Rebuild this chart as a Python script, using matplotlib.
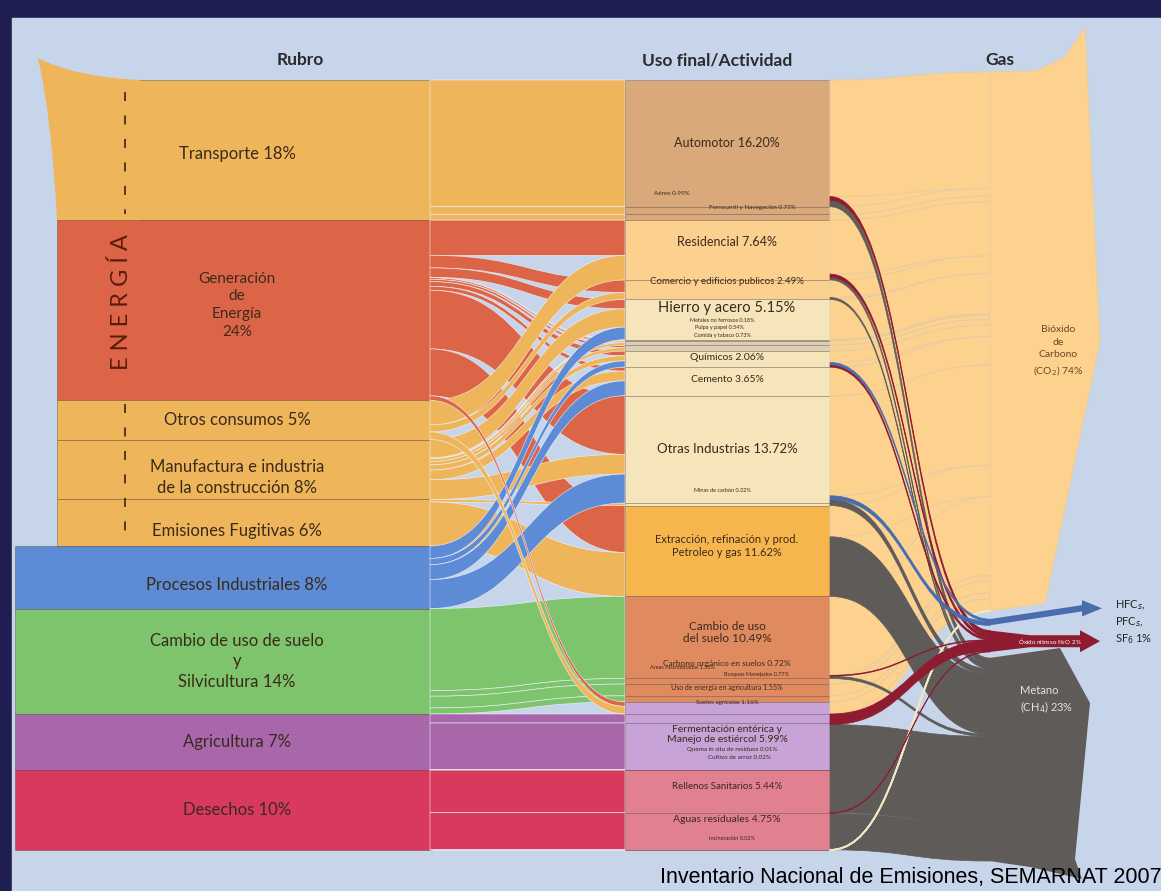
import matplotlib
matplotlib.use("Agg")
import matplotlib.pyplot as plt
from matplotlib.path import Path
from matplotlib.patches import PathPatch, Polygon, Rectangle

# ---------------- data ----------------
rubros = ["Transporte 18%", "Generación\nde\nEnergía\n24%", "Otros consumos 5%",
          "Manufactura e industria\nde la construcción 8%", "Emisiones Fugitivas 6%",
          "Procesos Industriales 8%", "Cambio de uso de suelo\ny\nSilvicultura 14%",
          "Agricultura 7%", "Desechos 10%"]
rubro_colors = ["#eeb55a", "#dd6547", "#eeb55a", "#eeb55a", "#eeb55a",
                "#5d8bd5", "#7ec46d", "#a967ab", "#d9395c"]

usos = ["Automotor 16.20%", "Aéreo 0.99%", "Ferrocarril y Navegación 0.73%",
        "Residencial 7.64%", "Comercio y edificios publicos 2.49%", "Hierro y acero 5.15%",
        "Metales no ferrosos 0.18%", "Pulpa y papel 0.54%", "Comida y tabaco 0.73%",
        "Químicos 2.06%", "Cemento 3.65%", "Otras Industrias 13.72%", "Minas de carbón 0.32%",
        "Extracción, refinación y prod.\nPetroleo y gas 11.62%", "Cambio de uso\ndel suelo 10.49%",
        "Carbono orgánico en suelos 0.72%", "Areas Abandonadas 1.50%", "Bosques Manejados 0.77%",
        "Uso de energía en agricultura 1.55%", "Suelos agrícolas 1.16%",
        "Fermentación entérica y\nManejo de estiércol 5.99%", "Quema in situ de residuos 0.01%",
        "Cultivo de arroz 0.02%", "Rellenos Sanitarios 5.44%", "Aguas residuales 4.75%",
        "Incineración 0.02%"]
uso_values = [16.20, 0.99, 0.73, 7.64, 2.49, 5.15, 0.18, 0.54, 0.73, 2.06, 3.65, 13.72, 0.32,
              11.62, 10.49, 0.72, 1.50, 0.77, 1.55, 1.16, 5.99, 0.01, 0.02, 5.44, 4.75, 0.02]
uso_colors = ["#d9a87b"] * 3 + ["#fcd08f"] * 2 + ["#f6e4bb"] + ["#dccfb3"] * 3 + \
             ["#f6e4bb"] * 4 + ["#f7b64d"] + ["#e08a60"] * 4 + ["#c8a3d8"] * 5 + ["#e1808f"] * 3

# rubro index -> uso index, value
links = [(0, 0, 16.20), (0, 1, 0.99), (0, 2, 0.73),
         (1, 3, 4.50), (1, 4, 1.60), (1, 5, 1.20), (1, 6, 0.06), (1, 7, 0.20), (1, 8, 0.30),
         (1, 9, 0.60), (1, 10, 0.50), (1, 11, 7.50), (1, 13, 6.00), (1, 18, 0.58),
         (2, 3, 3.14), (2, 4, 0.89), (2, 18, 0.97),
         (3, 5, 2.35), (3, 6, 0.12), (3, 7, 0.34), (3, 8, 0.43), (3, 9, 0.66), (3, 10, 1.25),
         (3, 11, 2.52),
         (4, 12, 0.32), (4, 13, 5.62),
         (5, 5, 1.60), (5, 9, 0.80), (5, 10, 1.90), (5, 11, 3.70),
         (6, 14, 10.49), (6, 15, 0.72), (6, 16, 1.50), (6, 17, 0.77),
         (7, 19, 1.16), (7, 20, 5.99), (7, 21, 0.01), (7, 22, 0.02),
         (8, 23, 5.44), (8, 24, 4.75), (8, 25, 0.02)]

# gas split of every uso (same order as usos)
gas_names = ["CO2", "HFC", "N2O", "CH4"]
gas_colors = {"CO2": "#fdd18e", "HFC": "#4a6cae", "N2O": "#8e1b2f", "CH4": "#5f5b58"}
uso_co2 = [14.90, 0.99, 0.73, 6.90, 2.25, 5.15, 0.18, 0.54, 0.73, 1.46, 3.65, 12.80, 0.00,
           4.00, 10.09, 0.72, 1.50, 0.77, 1.55, 0.00, 0.00, 0.00, 0.00, 0.00, 0.00, 0.02]
uso_hfc = [0] * 9 + [0.30, 0.00, 0.50] + [0] * 14
uso_n2o = [0.50, 0, 0, 0.40, 0, 0, 0, 0, 0, 0.30, 0, 0, 0, 0, 0.10, 0, 0, 0, 0, 1.16, 0.20,
           0, 0, 0, 0.10, 0]
uso_ch4 = [0.80, 0, 0, 0.34, 0.24, 0, 0, 0, 0, 0, 0, 0.42, 0.32, 7.62, 0.30, 0, 0, 0, 0, 0,
           5.79, 0.01, 0.02, 5.44, 4.65, 0]

# ---------------- layout ----------------
W, H = 1161, 891
TOP, BOTTOM = 80, 850
LX1, MX0, MX1, GX = 430, 625, 830, 990
GAS_TOP = 72
total = sum(v for _, _, v in links)
k = (BOTTOM - TOP) / total

fig = plt.figure(figsize=(W / 100, H / 100), dpi=100, facecolor="#1e1e50")
ax = fig.add_axes([0, 0, 1, 1])
ax.set_xlim(0, W)
ax.set_ylim(H, 0)
ax.axis("off")
ax.add_patch(Rectangle((12, 18), W - 12, H - 18, color="#c7d5ea", zorder=0))


def band(x0, x1, a0, a1, b0, b1, fc, ec="none", lw=0.0, z=2):
    xm = (x0 + x1) / 2
    verts = [(x0, a0), (xm, a0), (xm, b0), (x1, b0), (x1, b1),
             (xm, b1), (xm, a1), (x0, a1), (x0, a0)]
    codes = [Path.MOVETO, Path.CURVE4, Path.CURVE4, Path.CURVE4, Path.LINETO,
             Path.CURVE4, Path.CURVE4, Path.CURVE4, Path.CLOSEPOLY]
    ax.add_patch(PathPatch(Path(verts, codes), fc=fc, ec=ec, lw=lw, zorder=z))


# left nodes
rubro_h = [sum(v for s, _, v in links if s == i) * k for i in range(len(rubros))]
rubro_y = []
y = TOP
for h in rubro_h:
    rubro_y.append(y)
    y += h
rubro_x0 = [57] * 5 + [15] * 4
for i in range(len(rubros)):
    ax.add_patch(Rectangle((rubro_x0[i], rubro_y[i]), LX1 + 2 - rubro_x0[i], rubro_h[i],
                           fc=rubro_colors[i], ec=(0.3, 0.2, 0.1, 0.35), lw=0.7, zorder=3))
# flared tail on the top of Transporte
tail = Path([(57, rubro_y[1]), (52, 120), (38, 58), (75, 77), (140, TOP), (140, rubro_y[1]),
             (57, rubro_y[1])],
            [Path.MOVETO, Path.CURVE3, Path.CURVE3, Path.CURVE3, Path.CURVE3, Path.LINETO,
             Path.CLOSEPOLY])
ax.add_patch(PathPatch(tail, fc=rubro_colors[0], ec="none", zorder=3.1))

# middle nodes
uso_h = [v * k for v in uso_values]
uso_y = []
y = TOP
for h in uso_h:
    uso_y.append(y)
    y += h
for j in range(len(usos)):
    ax.add_patch(Rectangle((MX0, uso_y[j]), MX1 - MX0, uso_h[j], fc=uso_colors[j],
                           ec=(0.25, 0.15, 0.1, 0.3), lw=0.6, zorder=5))

# left -> middle ribbons
src_off = list(rubro_y)
dst_in = {}
for s, t, v in links:
    dst_in.setdefault(t, []).append((s, v))
dst_off = {}
for t in dst_in:
    yy = uso_y[t]
    for s, v in sorted(dst_in[t]):
        dst_off[(s, t)] = yy
        yy += v * k
for s, t, v in links:
    h = v * k
    a0 = src_off[s]
    src_off[s] += h
    b0 = dst_off[(s, t)]
    z = 4.5 if (v < 1 and abs(b0 - a0) > 200) else 4
    band(LX1, MX0, a0, a0 + h, b0, b0 + h, rubro_colors[s],
         ec=(0.95, 0.97, 1.0, 0.75), lw=0.5, z=z)

# gas node positions
gas_split = {"CO2": uso_co2, "HFC": uso_hfc, "N2O": uso_n2o, "CH4": uso_ch4}
gas_gap = {"CO2": 0, "HFC": 8, "N2O": 5, "CH4": 6}
gas_y = {}
y = GAS_TOP
for g in gas_names:
    y += gas_gap[g]
    gas_y[g] = [y, y + sum(gas_split[g]) * k]
    y = gas_y[g][1]

# light orange body of the CO2 zone
band(MX1, GX, TOP, uso_y[20], GAS_TOP, gas_y["CO2"][1], gas_colors["CO2"], z=1.5)

# middle -> gas ribbons
gas_off = {g: gas_y[g][0] for g in gas_names}
ribbons = []
for j in range(len(usos)):
    yy = uso_y[j]
    for g in gas_names:
        v = gas_split[g][j]
        if v <= 0:
            continue
        h = v * k
        ribbons.append((g, yy, gas_off[g], h, v))
        yy += h
        gas_off[g] += h
order = {"CO2": 6, "CH4": 7, "N2O": 8, "HFC": 8.5}
for g, a0, b0, h, v in ribbons:
    if g == "CO2":
        if v < 0.05:
            band(MX1, GX, a0, a0 + h, b0, b0 + h, "#f1e6c4", ec="#f1e6c4", lw=1.3, z=7.5)
        else:
            band(MX1, GX, a0, a0 + h, b0, b0 + h, gas_colors[g], ec="#e3cba6", lw=0.6, z=6)
    else:
        band(MX1, GX, a0, a0 + h, b0, b0 + h, gas_colors[g], ec=gas_colors[g], lw=0.5,
             z=order[g])

# gas arrows
c0, c1 = gas_y["CO2"]
ax.add_patch(Polygon([(GX - 1, c0), (GX + 45, c0 - 1), (GX + 75, c0 - 15), (GX + 95, c0 - 45),
                      (GX + 110, (c0 + c1) / 2), (GX + 55, c1 - 8), (GX - 1, c1)],
                     closed=True, fc=gas_colors["CO2"], ec="#e6cfa6", lw=0.8, zorder=5.5))
m0, m1 = gas_y["CH4"]
ax.add_patch(Polygon([(GX - 1, m0), (GX + 70, m0 - 10), (GX + 100, m0 + 45), (GX + 85, m1 - 2),
                      (GX + 92, m1 + 18), (GX + 40, m1 + 6), (GX - 1, m1)],
                     closed=True, fc=gas_colors["CH4"], ec="none", zorder=5.5))
h0, h1 = gas_y["HFC"]
hm = (h0 + h1) / 2
ax.add_patch(Polygon([(GX - 1, h0), (GX + 92, h0 - 14), (GX + 92, h0 - 19), (GX + 112, hm - 14),
                      (GX + 92, h1 - 9), (GX + 92, h1 - 14), (GX - 1, h1)],
                     closed=True, fc=gas_colors["HFC"], ec="none", zorder=9))
n0, n1 = gas_y["N2O"]
nm = (n0 + n1) / 2
ax.add_patch(Polygon([(GX - 1, n0), (GX + 40, nm - 6), (GX + 90, nm - 6), (GX + 90, nm - 11),
                      (GX + 110, nm), (GX + 90, nm + 11), (GX + 90, nm + 6), (GX + 40, nm + 6),
                      (GX - 1, n1)],
                     closed=True, fc=gas_colors["N2O"], ec="none", zorder=9))

# ---------------- text ----------------
FONT = "Lato"
dark = "#3a2a1c"
for x, t in [(300, "Rubro"), (717, "Uso final/Actividad"), (1000, "Gas")]:
    ax.text(x, 60, t, ha="center", va="center", fontsize=12.5, fontweight="bold",
            family=FONT, color="#2b2b2b", zorder=10)

rubro_dy = [4, -5, 0, 8, 8, 8, 0, 0, 0]
rubro_fs = [12, 11, 12, 12, 12, 12, 12, 12, 12]
for i, lab in enumerate(rubros):
    ax.text(237, rubro_y[i] + rubro_h[i] / 2 + rubro_dy[i], lab, ha="center", va="center",
            fontsize=rubro_fs[i], family=FONT, color=dark, linespacing=1.35, zorder=10)

ax.text(121, rubro_y[1] + rubro_h[1] / 2 - 8, "E N E R G Í A", rotation=90, ha="center",
        va="center", fontsize=17, family=FONT, color="#5e1a0f", zorder=10)
ax.plot([125, 125], [TOP + 12, rubro_y[1] - 6], color="#4a3018", lw=1.3,
        ls=(0, (5, 8)), zorder=10)
ax.plot([125, 125], [rubro_y[2] + 4, rubro_y[5] - 4], color="#4a3018", lw=1.3,
        ls=(0, (5, 8)), zorder=10)

uso_dx = [0, -55, 25, 0, 0, 0, -5, -8, -5, 0, 0, 0, -5, 0, 0, 0, -45, 30, 0, 0, 0, 5, 12, 0, 0, 5]
uso_dy = [0, -17, -10, -8, -8, -12, -20, -16, -13, -2, -2, 0, -14, -5, -5, -18, -22, -24, -20,
          -16, -12, -20, -13, -5, -12, -11]
uso_fs = [9, 4.5, 4.5, 9, 7, 10.5, 4, 4, 4, 7.5, 7.5, 9.5, 4, 8, 8.5, 6, 4, 4, 5, 4.5, 7.5,
          4.5, 4.5, 7, 7.5, 4]
for j, lab in enumerate(usos):
    ax.text(727 + uso_dx[j], uso_y[j] + uso_h[j] / 2 + uso_dy[j], lab, ha="center",
            va="center", fontsize=uso_fs[j], family=FONT, color=dark, linespacing=1.2,
            zorder=10)

ax.text(GX + 68, (c0 + c1) / 2 + 10, "Bióxido\nde\nCarbono\n(CO$_2$) 74%", ha="center",
        va="center", fontsize=7.5, family=FONT, color="#6a4a22", linespacing=1.5, zorder=10)
ax.text(GX + 30, m0 + 42, "Metano\n(CH$_4$) 23%", ha="left", va="center", fontsize=8,
        family=FONT, color="#e2e2e2", linespacing=1.3, zorder=10)
ax.text(GX + 125, hm, "HFC$_s$,\nPFC$_s$,\nSF$_6$ 1%", ha="left", va="center", fontsize=8,
        family=FONT, color="#222222", linespacing=1.35, zorder=10)
ax.text(GX + 60, nm, "Óxido nitroso N$_2$O 2%", ha="center", va="center", fontsize=4.5,
        family=FONT, color="white", zorder=10)

ax.text(660, 877, "Inventario Nacional de Emisiones, SEMARNAT 2007", ha="left", va="center",
        fontsize=15.5, family="Liberation Sans", color="black", zorder=11)

fig.savefig("out.png", dpi=100, facecolor=fig.get_facecolor())
